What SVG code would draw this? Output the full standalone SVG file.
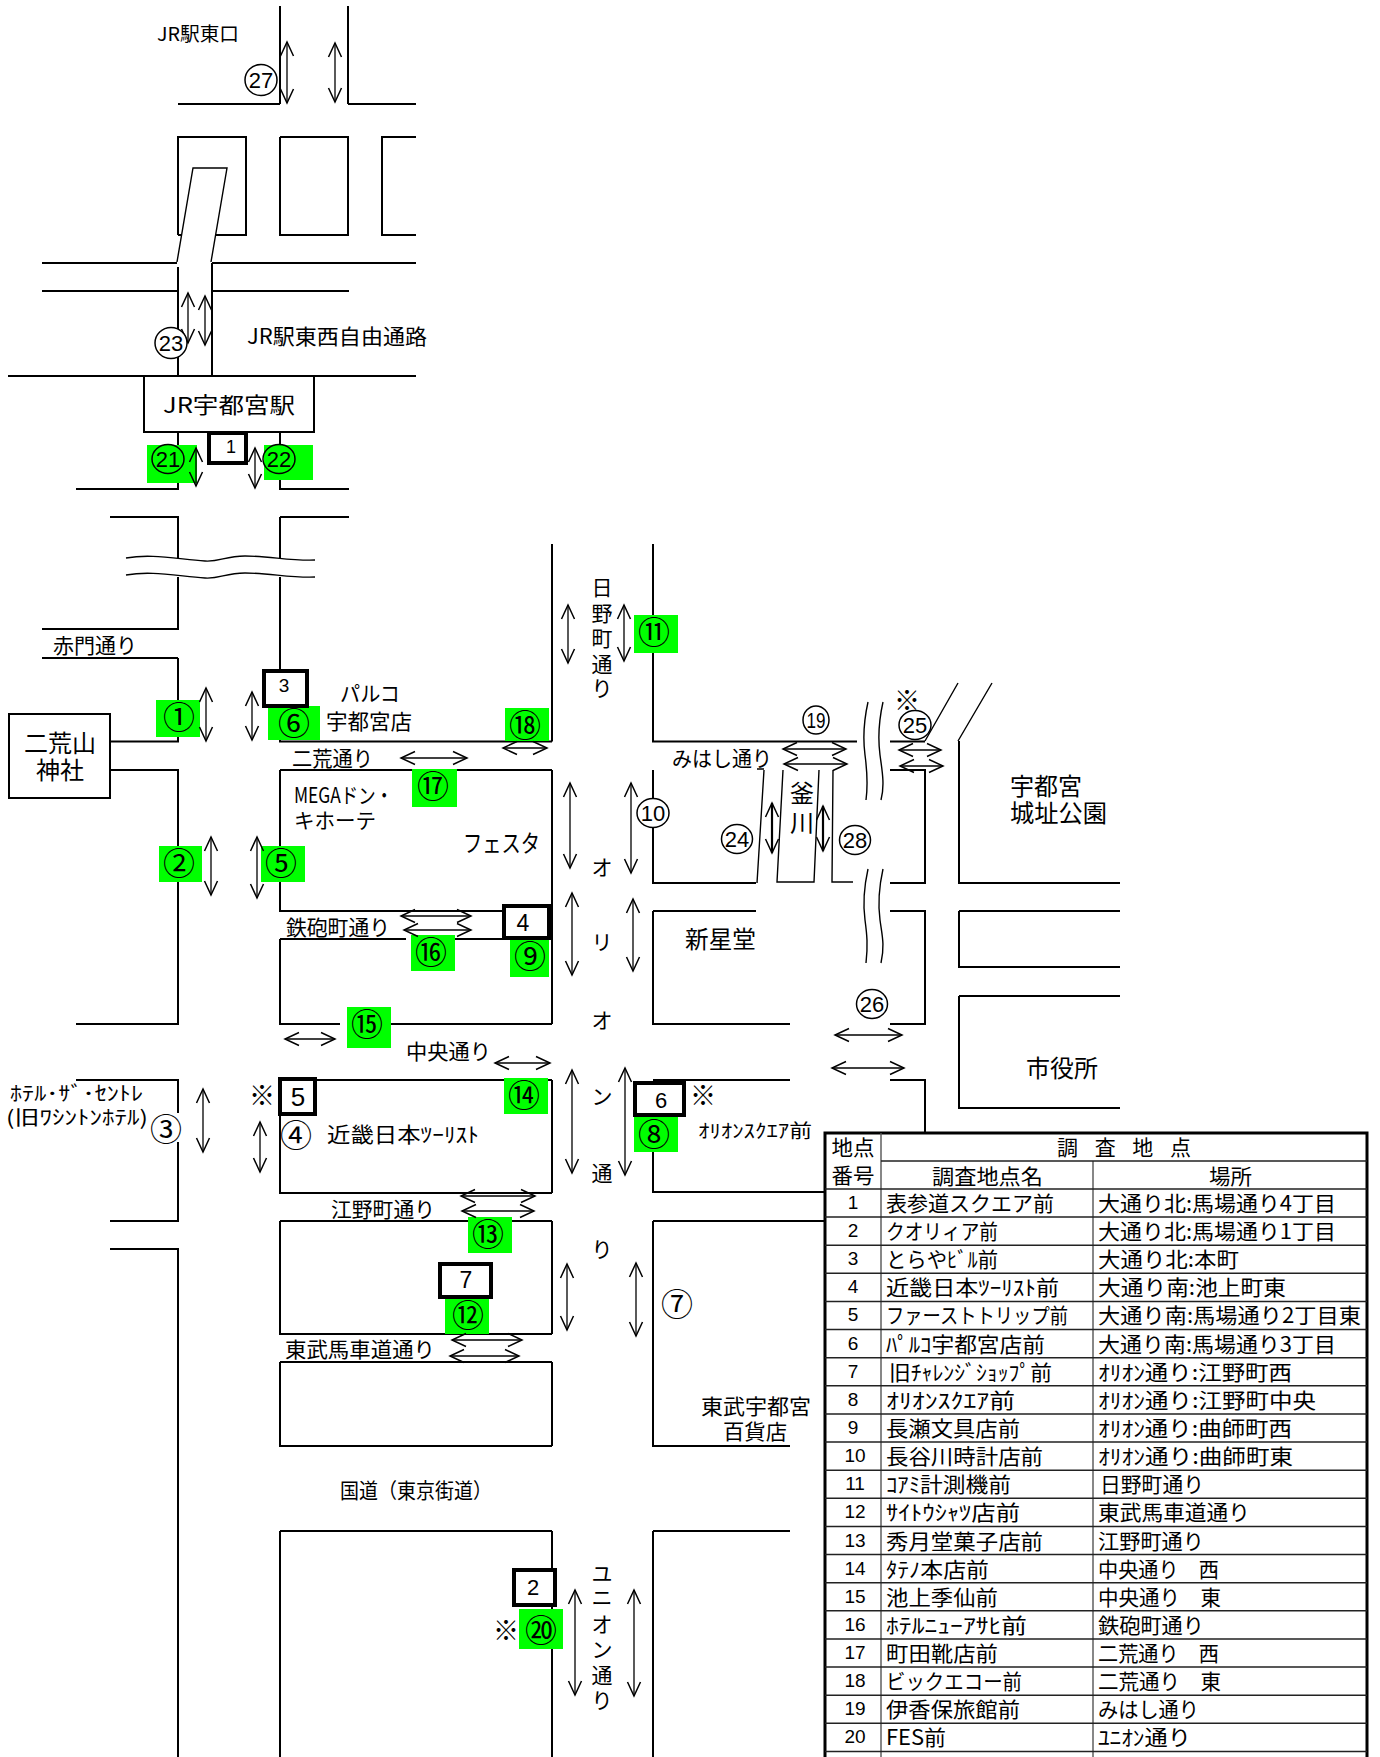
<svg xmlns="http://www.w3.org/2000/svg" width="1380" height="1757" viewBox="0 0 1380 1757">
<style>
text{font-family:"Noto Sans CJK JP","Liberation Sans",sans-serif;fill:#000}
.n{font-family:"Liberation Sans","Noto Sans CJK JP",sans-serif;text-anchor:middle}
.m{text-anchor:middle}
.c{font-size:32px;text-anchor:middle}
.r{fill:none;stroke:#000;stroke-width:2}
.th{fill:none;stroke:#000;stroke-width:1.4}
.g{fill:#00ff00}
.b{fill:#fff;stroke:#000;stroke-width:4}
.o{fill:#fff;stroke:#000;stroke-width:1.5}
.og{fill:none;stroke:#000;stroke-width:1.5}
.a{stroke:#000;stroke-width:1.3;fill:none;marker-start:url(#h);marker-end:url(#h)}
.a2{stroke-width:2.2}
.tl{stroke:#222;stroke-width:1.5;fill:none}
.tc{stroke:#555;stroke-width:1.4;fill:none}
.tb{stroke:#000;stroke-width:3;fill:none}
.t21{font-size:21px}
</style>
<defs>
<marker id="h" markerUnits="userSpaceOnUse" markerWidth="18" markerHeight="18" refX="14" refY="7" orient="auto-start-reverse" overflow="visible"><path d="M0,0.5 L14,7 L0,13.5" fill="none" stroke="#000" stroke-width="1.5"/></marker>
</defs>
<rect width="1380" height="1757" fill="#fff"/>
<g id="roads">
<path class="r" d="M280,6V104M348,6V104M178,104H280M348,104H416"/>
<path class="r" d="M178,235V137H246V235H178M280,137H348V235H280V137M416,137H382V235H416"/>
<path class="r" d="M42,263H177M212,263H416M42,291H177M212,291H349M178,267V376M212,263V376M8,376H416"/>
<path class="r" d="M178,432V489H76M280,432V489H349M110,517H179M280,517H349"/>
<path class="r" d="M178,517V558M280,517V558M178,577V629H42M178,658V741.500H110M42,658H178M110,770H178V1024H76"/>
<path class="r" d="M280,577V741.500H552M552,544V741.500M280,770H552M280,770V911H552M552,770V1024M280,939V1024H340M391,1024H552M280,939H406M455,939H552"/>
<path class="r" d="M653,544V741.500H857M890,741.500H925M653,770V883H756M653,911H756M653,911V1024H790M890,770H925V883H890M890,911H925V1024H890"/>
<path class="r" d="M959,741V883H1120M959,911H1120M959,911V967H1120M959,996H1120M959,996V1108H1120M890,1080H925V1133"/>
<path class="th" d="M925,741L958,683M958,741L992,683"/>
<path class="th" d="M764,770L757,883M783,770L777,882H814L819,770M833,770L832,882H853M757,769H764"/>
<path class="r" d="M76,1080H179M178,1080V1113M178,1142V1221H110M110,1249H179M178,1249V1757"/>
<path class="r" d="M280,1080H552M280,1080V1193H552M280,1221H552M280,1221V1334H552M280,1362H552M280,1362V1446H552M552,1080V1193M552,1221V1334M552,1362V1446"/>
<path class="r" d="M280,1531H552M280,1531V1757M552,1531V1757"/>
<path class="r" d="M653,1080H790M653,1152V1192H825M653,1221H825M653,1221V1446H790M653,1531H790M653,1531V1757"/>
<path class="th" d="M126,558C150,554 170,558 205,561C220,562 225,556 245,556C270,556 290,561 315,560"/>
<path class="th" d="M126,575C150,571 170,575 205,578C220,579 225,573 245,573C270,573 290,578 315,577"/>
<path class="th" d="M868,702C864,720 863,740 865,755C867,770 868,785 866,800M883,702C879,720 878,740 880,755C882,770 885,785 881,800"/>
<path class="th" d="M868,869C864,887 863,905 865,920C867,935 868,945 866,963M883,869C879,887 878,905 880,920C882,935 885,945 881,963"/>
<path d="M177,262L193,168H227L211,262Z" fill="#fff" stroke="none"/>
<path class="th" d="M177,262L193,168H227L211,262"/>
</g>
<g id="station"><rect x="144" y="376" width="170" height="56" fill="#fff" stroke="#000" stroke-width="2"/><text x="163" y="413" font-size="22" textLength="132" lengthAdjust="spacingAndGlyphs">JR宇都宮駅</text></g>
<g id="shrine"><rect x="9" y="714" width="101" height="84" fill="#fff" stroke="#000" stroke-width="2"/><text x="60" y="752" font-size="24" class="m" textLength="72" lengthAdjust="spacingAndGlyphs">二荒山</text><text x="60" y="779" font-size="24" class="m" textLength="48" lengthAdjust="spacingAndGlyphs">神社</text></g>
<g id="green">
<rect class="g" x="156" y="700" width="44" height="37"/><rect class="g" x="159" y="846" width="43" height="36"/><rect class="g" x="261" y="846" width="44" height="36"/><rect class="g" x="268" y="706" width="52" height="34"/>
<rect class="g" x="412" y="769" width="45" height="38"/><rect class="g" x="411" y="935" width="44" height="36"/><rect class="g" x="347" y="1007" width="44" height="41"/><rect class="g" x="505" y="708" width="44" height="33"/>
<rect class="g" x="634" y="615" width="44" height="38"/><rect class="g" x="510" y="939" width="39" height="38"/><rect class="g" x="504" y="1078" width="44" height="36"/><rect class="g" x="634" y="1117" width="44" height="35"/>
<rect class="g" x="468" y="1217" width="44" height="36"/><rect class="g" x="445" y="1298" width="44" height="36"/><rect class="g" x="519" y="1609" width="44" height="40"/><rect class="g" x="147" y="445" width="50" height="38"/><rect class="g" x="264" y="445" width="49" height="35"/>
</g>
<g id="connectors">
<line class="a" x1="287" y1="42" x2="287" y2="103"/><line class="a" x1="335" y1="43" x2="335" y2="102"/>
<line class="a" x1="188" y1="293" x2="188" y2="343"/><line class="a" x1="205" y1="296" x2="205" y2="345"/>
<line class="a" x1="196" y1="448" x2="196" y2="486"/><line class="a" x1="255" y1="448" x2="255" y2="488"/>
<line class="a" x1="206" y1="688" x2="206" y2="741"/><line class="a" x1="252" y1="692" x2="252" y2="740"/>
<line class="a" x1="211" y1="837" x2="211" y2="895"/><line class="a" x1="257" y1="837" x2="257" y2="898"/>
<line class="a" x1="401" y1="758" x2="467" y2="758"/><line class="a" x1="401" y1="916" x2="471" y2="916"/><line class="a" x1="404" y1="930" x2="471" y2="930"/>
<line class="a" x1="285" y1="1039" x2="335" y2="1039"/><line class="a" x1="503" y1="748" x2="547" y2="748"/>
<line class="a" x1="568" y1="605" x2="568" y2="663"/><line class="a" x1="624" y1="605" x2="624" y2="661"/>
<line class="a" x1="570" y1="783" x2="570" y2="868"/><line class="a" x1="631" y1="783" x2="631" y2="873"/>
<line class="a" x1="572" y1="893" x2="572" y2="975"/><line class="a" x1="633" y1="899" x2="633" y2="971"/>
<line class="a a2" x1="772" y1="803" x2="772" y2="853"/><line class="a a2" x1="823" y1="806" x2="823" y2="851"/>
<line class="a" x1="783" y1="749" x2="846" y2="749"/><line class="a" x1="784" y1="764" x2="847" y2="764"/>
<line class="a" x1="899" y1="750" x2="941" y2="750"/><line class="a" x1="900" y1="766" x2="943" y2="766"/>
<line class="a" x1="835" y1="1035" x2="902" y2="1035"/><line class="a" x1="832" y1="1068" x2="904" y2="1068"/>
<line class="a" x1="495" y1="1063" x2="550" y2="1063"/>
<line class="a" x1="572" y1="1070" x2="572" y2="1173"/><line class="a" x1="625" y1="1068" x2="625" y2="1175"/>
<line class="a" x1="461" y1="1196" x2="535" y2="1196"/><line class="a" x1="462" y1="1211" x2="534" y2="1211"/>
<line class="a" x1="452" y1="1340" x2="522" y2="1340"/><line class="a" x1="450" y1="1356" x2="519" y2="1356"/>
<line class="a" x1="567" y1="1264" x2="567" y2="1330"/><line class="a" x1="636" y1="1263" x2="636" y2="1336"/>
<line class="a" x1="575" y1="1590" x2="575" y2="1695"/><line class="a" x1="634" y1="1590" x2="634" y2="1696"/>
<line class="a" x1="203" y1="1089" x2="203" y2="1152"/><line class="a" x1="260" y1="1122" x2="260" y2="1172"/>
</g>
<g id="point-boxes">
<g id="box1"><rect class="b" x="209" y="433" width="37" height="30"/><text class="n" x="231" y="453" font-size="18">1</text></g>
<g id="box3"><rect class="b" x="264" y="671" width="43" height="35"/><text class="n" x="284" y="692" font-size="19">3</text></g>
<g id="box4"><rect class="b" x="504" y="906" width="45" height="32"/><text class="n" x="523" y="931" font-size="23">4</text></g>
<g id="box5"><rect class="b" x="280" y="1079" width="35" height="35"/><text class="n" x="298" y="1106" font-size="26">5</text></g>
<g id="box6"><rect class="b" x="635" y="1083" width="49" height="32"/><text class="n" x="661" y="1108" font-size="22">6</text></g>
<g id="box7"><rect class="b" x="440" y="1264" width="51" height="33"/><text class="n" x="466" y="1288" font-size="23">7</text></g>
<g id="box2"><rect class="b" x="514" y="1570" width="41" height="35"/><text class="n" x="533" y="1595" font-size="22">2</text></g>
</g>
<g id="numbered-circles">
<g id="p21"><ellipse class="og" cx="168" cy="459" rx="16" ry="14.500"/><text class="n" x="168" y="467" font-size="22">21</text></g>
<g id="p22"><ellipse class="og" cx="279" cy="459" rx="16" ry="14.500"/><text class="n" x="279" y="467" font-size="22">22</text></g>
<g id="p27"><ellipse class="o" cx="261" cy="80" rx="16" ry="15.500"/><text class="n" x="261" y="88" font-size="22">27</text></g>
<g id="p23"><ellipse class="o" cx="171" cy="343" rx="16" ry="15.500"/><text class="n" x="171" y="351" font-size="22">23</text></g>
<g id="p10"><ellipse class="o" cx="653" cy="813" rx="16" ry="14.500"/><text class="n" x="653" y="821" font-size="22">10</text></g>
<g id="p24"><ellipse class="o" cx="737" cy="839" rx="15.500" ry="14.500"/><text class="n" x="737" y="847" font-size="22">24</text></g>
<g id="p28"><ellipse class="o" cx="855" cy="840" rx="15.500" ry="14.500"/><text class="n" x="855" y="848" font-size="22">28</text></g>
<g id="p25"><ellipse class="o" cx="915" cy="725" rx="16" ry="14.500"/><text class="n" x="915" y="733" font-size="22">25</text></g>
<g id="p26"><ellipse class="o" cx="872" cy="1004" rx="15.500" ry="14.500"/><text class="n" x="872" y="1012" font-size="22">26</text></g>
<g id="p19"><ellipse class="o" cx="816" cy="720" rx="13" ry="14"/><text class="n" x="816" y="728" font-size="22" textLength="19" lengthAdjust="spacingAndGlyphs">19</text></g>
</g>
<g id="circled-glyphs">
<text class="c" x="179" y="729">①</text><text class="c" x="179" y="875">②</text><text class="c" x="166" y="1141">③</text><text class="c" x="296" y="1147">④</text><text class="c" x="281" y="875">⑤</text><text class="c" x="294" y="735">⑥</text><text class="c" x="677" y="1316">⑦</text><text class="c" x="654" y="1146">⑧</text><text class="c" x="530" y="968">⑨</text><text class="c" x="654" y="644">⑪</text><text class="c" x="468" y="1327">⑫</text><text class="c" x="488" y="1246">⑬</text><text class="c" x="524" y="1107">⑭</text><text class="c" x="367" y="1036">⑮</text><text class="c" x="431" y="964">⑯</text><text class="c" x="433" y="798">⑰</text><text class="c" x="525" y="737">⑱</text><text class="c" x="541" y="1642">⑳</text>
</g>
<g id="labels">
<text x="157" y="41" font-size="19" textLength="82" lengthAdjust="spacingAndGlyphs">JR駅東口</text>
<text x="247" y="344" font-size="21" textLength="180" lengthAdjust="spacingAndGlyphs">JR駅東西自由通路</text>
<text x="340" y="701" font-size="21" textLength="60" lengthAdjust="spacingAndGlyphs">パルコ</text>
<text x="326" y="729" font-size="21" textLength="86" lengthAdjust="spacingAndGlyphs">宇都宮店</text>
<text x="53" y="653" font-size="21" textLength="84" lengthAdjust="spacingAndGlyphs">赤門通り</text>
<text x="292" y="766" font-size="21" textLength="81" lengthAdjust="spacingAndGlyphs">二荒通り</text>
<text x="294" y="803" font-size="21" textLength="99" lengthAdjust="spacingAndGlyphs">MEGAドン・</text>
<text x="294" y="828" font-size="21" textLength="82" lengthAdjust="spacingAndGlyphs">キホーテ</text>
<text x="463" y="852" font-size="24" textLength="77" lengthAdjust="spacingAndGlyphs">フェスタ</text>
<text x="286" y="935" font-size="21" textLength="104" lengthAdjust="spacingAndGlyphs">鉄砲町通り</text>
<text x="406" y="1059" font-size="21" textLength="85" lengthAdjust="spacingAndGlyphs">中央通り</text>
<text x="10" y="1101" font-size="20" textLength="133" lengthAdjust="spacingAndGlyphs">ﾎﾃﾙ･ｻﾞ･ｾﾝﾄﾚ</text>
<text x="6" y="1125" font-size="20" textLength="142" lengthAdjust="spacingAndGlyphs">(旧ﾜｼﾝﾄﾝﾎﾃﾙ)</text>
<text x="327" y="1142" font-size="21" textLength="152" lengthAdjust="spacingAndGlyphs">近畿日本ﾂｰﾘｽﾄ</text>
<text x="331" y="1217" font-size="21" textLength="104" lengthAdjust="spacingAndGlyphs">江野町通り</text>
<text x="285" y="1357" font-size="21" textLength="150" lengthAdjust="spacingAndGlyphs">東武馬車道通り</text>
<text x="340" y="1498" font-size="21" textLength="152" lengthAdjust="spacingAndGlyphs">国道（東京街道）</text>
<text x="698" y="1138" font-size="19" textLength="114" lengthAdjust="spacingAndGlyphs">ｵﾘｵﾝｽｸｴｱ前</text>
<text x="701" y="1414" font-size="21" textLength="110" lengthAdjust="spacingAndGlyphs">東武宇都宮</text>
<text x="723" y="1439" font-size="21" textLength="64" lengthAdjust="spacingAndGlyphs">百貨店</text>
<text x="685" y="948" font-size="24" textLength="71" lengthAdjust="spacingAndGlyphs">新星堂</text>
<text x="672" y="766" font-size="21" textLength="100" lengthAdjust="spacingAndGlyphs">みはし通り</text>
<text class="m" x="802" y="802" font-size="24">釜</text><text class="m" x="802" y="832" font-size="24">川</text>
<text class="m t21" x="602" y="595">日</text><text class="m t21" x="602" y="621">野</text><text class="m t21" x="602" y="646">町</text><text class="m t21" x="602" y="672">通</text><text class="m t21" x="602" y="696">り</text>
<text class="m t21" x="602" y="875">オ</text><text class="m t21" x="602" y="950">リ</text><text class="m t21" x="602" y="1028">オ</text><text class="m t21" x="602" y="1104">ン</text><text class="m t21" x="602" y="1181">通</text><text class="m t21" x="602" y="1257">り</text>
<text class="m t21" x="602" y="1581">ユ</text><text class="m t21" x="602" y="1605">ニ</text><text class="m t21" x="602" y="1632">オ</text><text class="m t21" x="602" y="1657">ン</text><text class="m t21" x="602" y="1683">通</text><text class="m t21" x="602" y="1708">り</text>
<text x="1010" y="795" font-size="24" textLength="72" lengthAdjust="spacingAndGlyphs">宇都宮</text>
<text x="1010" y="822" font-size="24" textLength="97" lengthAdjust="spacingAndGlyphs">城址公園</text>
<text x="1026" y="1077" font-size="24" textLength="72" lengthAdjust="spacingAndGlyphs">市役所</text>
<text class="m" x="907" y="710" font-size="26">※</text><text class="m" x="262" y="1105" font-size="26">※</text><text class="m" x="703" y="1105" font-size="26">※</text><text class="m" x="506" y="1640" font-size="26">※</text>
</g>
<g id="table">
<rect x="825" y="1133" width="542" height="624" fill="#fff"/>
<path class="tb" d="M825,1757V1133H1367V1757"/>
<path class="tc" d="M881,1133V1757M1093,1161V1757"/>
<path class="tl" d="M881,1161H1367M825,1189H1367M825,1217.100H1367M825,1245.200H1367M825,1273.300H1367M825,1301.500H1367M825,1329.600H1367M825,1357.700H1367M825,1385.800H1367M825,1414H1367M825,1442.100H1367M825,1470.200H1367M825,1498.300H1367M825,1526.500H1367M825,1554.600H1367M825,1582.700H1367M825,1610.800H1367M825,1639H1367M825,1667.100H1367M825,1695.200H1367M825,1723.300H1367M825,1751.400H1367"/>
<text class="m t21" x="853" y="1155" textLength="43" lengthAdjust="spacingAndGlyphs">地点</text>
<text class="m t21" x="853" y="1183" textLength="43" lengthAdjust="spacingAndGlyphs">番号</text>
<text class="t21" x="1057" y="1155" textLength="134" lengthAdjust="spacing">調 査 地 点</text>
<text class="t21" x="932" y="1184" textLength="111" lengthAdjust="spacingAndGlyphs">調査地点名</text>
<text class="t21" x="1209" y="1184" textLength="43" lengthAdjust="spacingAndGlyphs">場所</text>
<g id="row1"><text class="n" x="853" y="1209" font-size="19">1</text><text class="t21" x="886" y="1211" textLength="168" lengthAdjust="spacingAndGlyphs">表参道スクエア前</text><text class="t21" x="1098" y="1211" textLength="238" lengthAdjust="spacingAndGlyphs">大通り北:馬場通り4丁目</text></g>
<g id="row2"><text class="n" x="853" y="1237" font-size="19">2</text><text class="t21" x="886" y="1239" textLength="112" lengthAdjust="spacingAndGlyphs">クオリィア前</text><text class="t21" x="1098" y="1239" textLength="238" lengthAdjust="spacingAndGlyphs">大通り北:馬場通り1丁目</text></g>
<g id="row3"><text class="n" x="853" y="1265" font-size="19">3</text><text class="t21" x="886" y="1267" textLength="112" lengthAdjust="spacingAndGlyphs">とらやﾋﾞﾙ前</text><text class="t21" x="1098" y="1267" textLength="141" lengthAdjust="spacingAndGlyphs">大通り北:本町</text></g>
<g id="row4"><text class="n" x="853" y="1293" font-size="19">4</text><text class="t21" x="886" y="1295" textLength="173" lengthAdjust="spacingAndGlyphs">近畿日本ﾂｰﾘｽﾄ前</text><text class="t21" x="1098" y="1295" textLength="188" lengthAdjust="spacingAndGlyphs">大通り南:池上町東</text></g>
<g id="row5"><text class="n" x="853" y="1321" font-size="19">5</text><text class="t21" x="886" y="1323" textLength="182" lengthAdjust="spacingAndGlyphs">ファーストトリップ前</text><text class="t21" x="1098" y="1323" textLength="263" lengthAdjust="spacingAndGlyphs">大通り南:馬場通り2丁目東</text></g>
<g id="row6"><text class="n" x="853" y="1350" font-size="19">6</text><text class="t21" x="886" y="1352" textLength="159" lengthAdjust="spacingAndGlyphs">ﾊﾟﾙｺ宇都宮店前</text><text class="t21" x="1098" y="1352" textLength="238" lengthAdjust="spacingAndGlyphs">大通り南:馬場通り3丁目</text></g>
<g id="row7"><text class="n" x="853" y="1378" font-size="19">7</text><text class="t21" x="889" y="1380" textLength="163" lengthAdjust="spacingAndGlyphs">旧ﾁｬﾚﾝｼﾞｼｮｯﾌﾟ前</text><text class="t21" x="1098" y="1380" textLength="194" lengthAdjust="spacingAndGlyphs">ｵﾘｵﾝ通り:江野町西</text></g>
<g id="row8"><text class="n" x="853" y="1406" font-size="19">8</text><text class="t21" x="886" y="1408" textLength="129" lengthAdjust="spacingAndGlyphs">ｵﾘｵﾝｽｸｴｱ前</text><text class="t21" x="1098" y="1408" textLength="218" lengthAdjust="spacingAndGlyphs">ｵﾘｵﾝ通り:江野町中央</text></g>
<g id="row9"><text class="n" x="853" y="1434" font-size="19">9</text><text class="t21" x="886" y="1436" textLength="134" lengthAdjust="spacingAndGlyphs">長瀬文具店前</text><text class="t21" x="1098" y="1436" textLength="194" lengthAdjust="spacingAndGlyphs">ｵﾘｵﾝ通り:曲師町西</text></g>
<g id="row10"><text class="n" x="855" y="1462" font-size="19">10</text><text class="t21" x="886" y="1464" textLength="157" lengthAdjust="spacingAndGlyphs">長谷川時計店前</text><text class="t21" x="1098" y="1464" textLength="195" lengthAdjust="spacingAndGlyphs">ｵﾘｵﾝ通り:曲師町東</text></g>
<g id="row11"><text class="n" x="855" y="1490" font-size="19">11</text><text class="t21" x="886" y="1492" textLength="125" lengthAdjust="spacingAndGlyphs">ｺｱﾐ計測機前</text><text class="t21" x="1100" y="1492" textLength="104" lengthAdjust="spacingAndGlyphs">日野町通り</text></g>
<g id="row12"><text class="n" x="855" y="1518" font-size="19">12</text><text class="t21" x="886" y="1520" textLength="134" lengthAdjust="spacingAndGlyphs">ｻｲﾄｳｼｬﾂ店前</text><text class="t21" x="1098" y="1520" textLength="152" lengthAdjust="spacingAndGlyphs">東武馬車道通り</text></g>
<g id="row13"><text class="n" x="855" y="1547" font-size="19">13</text><text class="t21" x="886" y="1549" textLength="157" lengthAdjust="spacingAndGlyphs">秀月堂菓子店前</text><text class="t21" x="1098" y="1549" textLength="106" lengthAdjust="spacingAndGlyphs">江野町通り</text></g>
<g id="row14"><text class="n" x="855" y="1575" font-size="19">14</text><text class="t21" x="886" y="1577" textLength="103" lengthAdjust="spacingAndGlyphs">ﾀﾃﾉ本店前</text><text class="t21" x="1098" y="1577" textLength="121" lengthAdjust="spacingAndGlyphs">中央通り　西</text></g>
<g id="row15"><text class="n" x="855" y="1603" font-size="19">15</text><text class="t21" x="886" y="1605" textLength="112" lengthAdjust="spacingAndGlyphs">池上季仙前</text><text class="t21" x="1098" y="1605" textLength="123" lengthAdjust="spacingAndGlyphs">中央通り　東</text></g>
<g id="row16"><text class="n" x="855" y="1631" font-size="19">16</text><text class="t21" x="886" y="1633" textLength="141" lengthAdjust="spacingAndGlyphs">ﾎﾃﾙﾆｭｰｱｻﾋ前</text><text class="t21" x="1098" y="1633" textLength="106" lengthAdjust="spacingAndGlyphs">鉄砲町通り</text></g>
<g id="row17"><text class="n" x="855" y="1659" font-size="19">17</text><text class="t21" x="886" y="1661" textLength="112" lengthAdjust="spacingAndGlyphs">町田靴店前</text><text class="t21" x="1098" y="1661" textLength="121" lengthAdjust="spacingAndGlyphs">二荒通り　西</text></g>
<g id="row18"><text class="n" x="855" y="1687" font-size="19">18</text><text class="t21" x="886" y="1689" textLength="136" lengthAdjust="spacingAndGlyphs">ビックエコー前</text><text class="t21" x="1098" y="1689" textLength="123" lengthAdjust="spacingAndGlyphs">二荒通り　東</text></g>
<g id="row19"><text class="n" x="855" y="1715" font-size="19">19</text><text class="t21" x="886" y="1717" textLength="134" lengthAdjust="spacingAndGlyphs">伊香保旅館前</text><text class="t21" x="1098" y="1717" textLength="101" lengthAdjust="spacingAndGlyphs">みはし通り</text></g>
<g id="row20"><text class="n" x="855" y="1743" font-size="19">20</text><text class="t21" x="886" y="1745" textLength="60" lengthAdjust="spacingAndGlyphs">FES前</text><text class="t21" x="1098" y="1745" textLength="93" lengthAdjust="spacingAndGlyphs">ﾕﾆｵﾝ通り</text></g>
</g>
</svg>
